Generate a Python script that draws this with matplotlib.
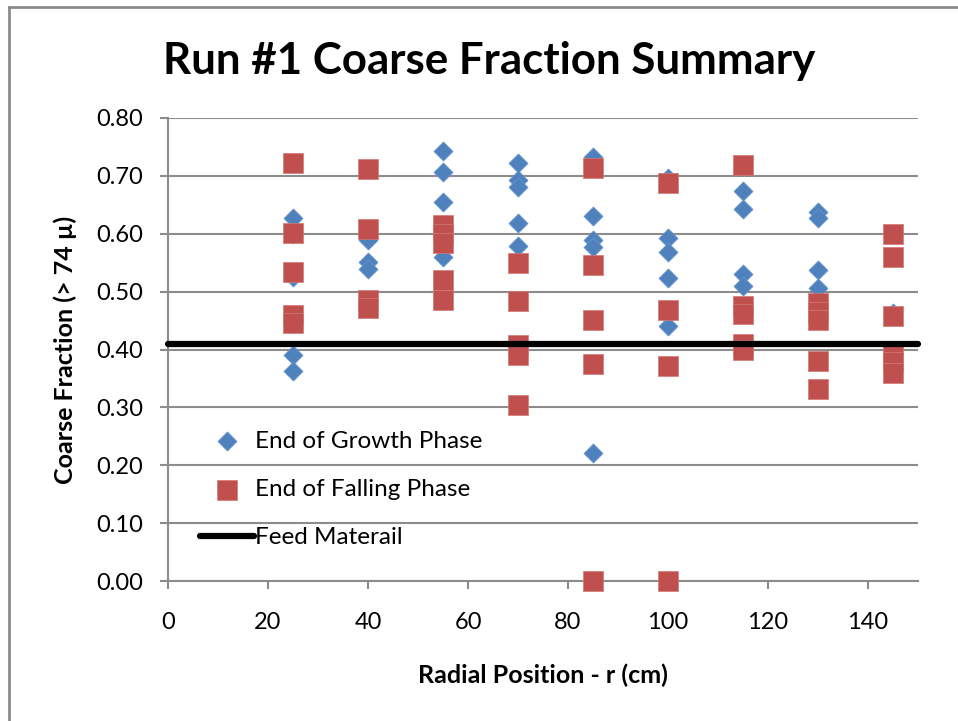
import matplotlib
matplotlib.use("Agg")
import matplotlib.pyplot as plt
from matplotlib.lines import Line2D

plt.rcParams['font.family'] = ['Lato', 'DejaVu Sans']

# radial positions (cm)
positions = [25, 40, 55, 70, 85, 100, 115, 130, 145]

# End of Growth Phase values per position
growth = {
    25: [0.627, 0.600, 0.525, 0.455, 0.390, 0.363],
    40: [0.600, 0.590, 0.551, 0.539],
    55: [0.743, 0.707, 0.655, 0.600, 0.560],
    70: [0.722, 0.693, 0.680, 0.619, 0.579],
    85: [0.733, 0.631, 0.589, 0.577, 0.221],
    100: [0.697, 0.593, 0.569, 0.523, 0.440],
    115: [0.674, 0.643, 0.530, 0.510],
    130: [0.638, 0.627, 0.537, 0.507],
    145: [0.463, 0.394],
}

# End of Falling Phase values per position
falling = {
    25: [0.722, 0.601, 0.534, 0.460, 0.446],
    40: [0.712, 0.608, 0.486, 0.472],
    55: [0.615, 0.600, 0.584, 0.520, 0.486],
    70: [0.549, 0.484, 0.408, 0.390, 0.304],
    85: [0.714, 0.546, 0.451, 0.375, 0.0],
    100: [0.687, 0.468, 0.372, 0.0],
    115: [0.719, 0.475, 0.462, 0.410, 0.400],
    130: [0.480, 0.465, 0.451, 0.380, 0.332],
    145: [0.600, 0.560, 0.458, 0.389, 0.378, 0.360],
}

feed_value = 0.41
feed_x = [0, 150]

gx = [p for p in positions for v in growth[p]]
gy = [v for p in positions for v in growth[p]]
fx = [p for p in positions for v in falling[p]]
fy = [v for p in positions for v in falling[p]]

W, H = 958, 721
fig = plt.figure(figsize=(W / 100, H / 100), dpi=100)
ax = fig.add_axes([168 / W, 1 - 581 / H, 750 / W, 463 / H])

ax.set_xlim(0, 150)
ax.set_ylim(0, 0.8)
ax.set_yticks([0.0, 0.1, 0.2, 0.3, 0.4, 0.5, 0.6, 0.7, 0.8])
ax.set_yticklabels(['%.2f' % v for v in ax.get_yticks()])
ax.set_xticks(range(0, 141, 20))
ax.grid(axis='y', color='#8c8c8c', linewidth=1.5)
ax.set_axisbelow(True)

for s in ['top', 'right']:
    ax.spines[s].set_visible(False)
for s in ['left', 'bottom']:
    ax.spines[s].set_color('#8c8c8c')
    ax.spines[s].set_linewidth(1.5)
ax.tick_params(colors='#8c8c8c', width=1.5, length=6, labelcolor='black',
               labelsize=17)
ax.tick_params(axis='x', pad=16)
ax.tick_params(axis='y', pad=12)

ax.scatter(gx, gy, marker='D', s=95, color='#4F81BD', edgecolors='#6a98cf',
           linewidths=0.5, zorder=3, label='End of Growth Phase', clip_on=False)
ax.scatter(fx, fy, marker='s', s=205, color='#C0504D', edgecolors='#d37a77',
           linewidths=0.5, zorder=4, label='End of Falling Phase', clip_on=False)
ax.plot(feed_x, [feed_value, feed_value], color='black', linewidth=4.5,
        solid_capstyle='round', zorder=5, label='Feed Materail', clip_on=False)

leg = ax.legend(loc='lower left', bbox_to_anchor=(0.03, 0.05), frameon=False,
                fontsize=17.5, handlelength=2.2, labelspacing=1.12,
                handletextpad=0.05, borderaxespad=0)

ax.set_xlabel('Radial Position - r (cm)', fontsize=18, fontweight='bold',
              labelpad=22)
ax.set_ylabel('Coarse Fraction (> 74 µ)', fontsize=18, fontweight='bold',
              labelpad=14)

fig.text(489 / W, 1 - 61 / H, 'Run #1 Coarse Fraction Summary', fontsize=31.6,
         fontweight='bold', ha='center', va='center')

# outer chart border (cropped at right and bottom)
fig.add_artist(Line2D([9 / W, 1], [1 - 7 / H, 1 - 7 / H], color='#8c8c8c',
                      linewidth=2))
fig.add_artist(Line2D([9 / W, 9 / W], [0, 1 - 7 / H], color='#8c8c8c',
                      linewidth=2))

fig.savefig('out.png', dpi=100)
